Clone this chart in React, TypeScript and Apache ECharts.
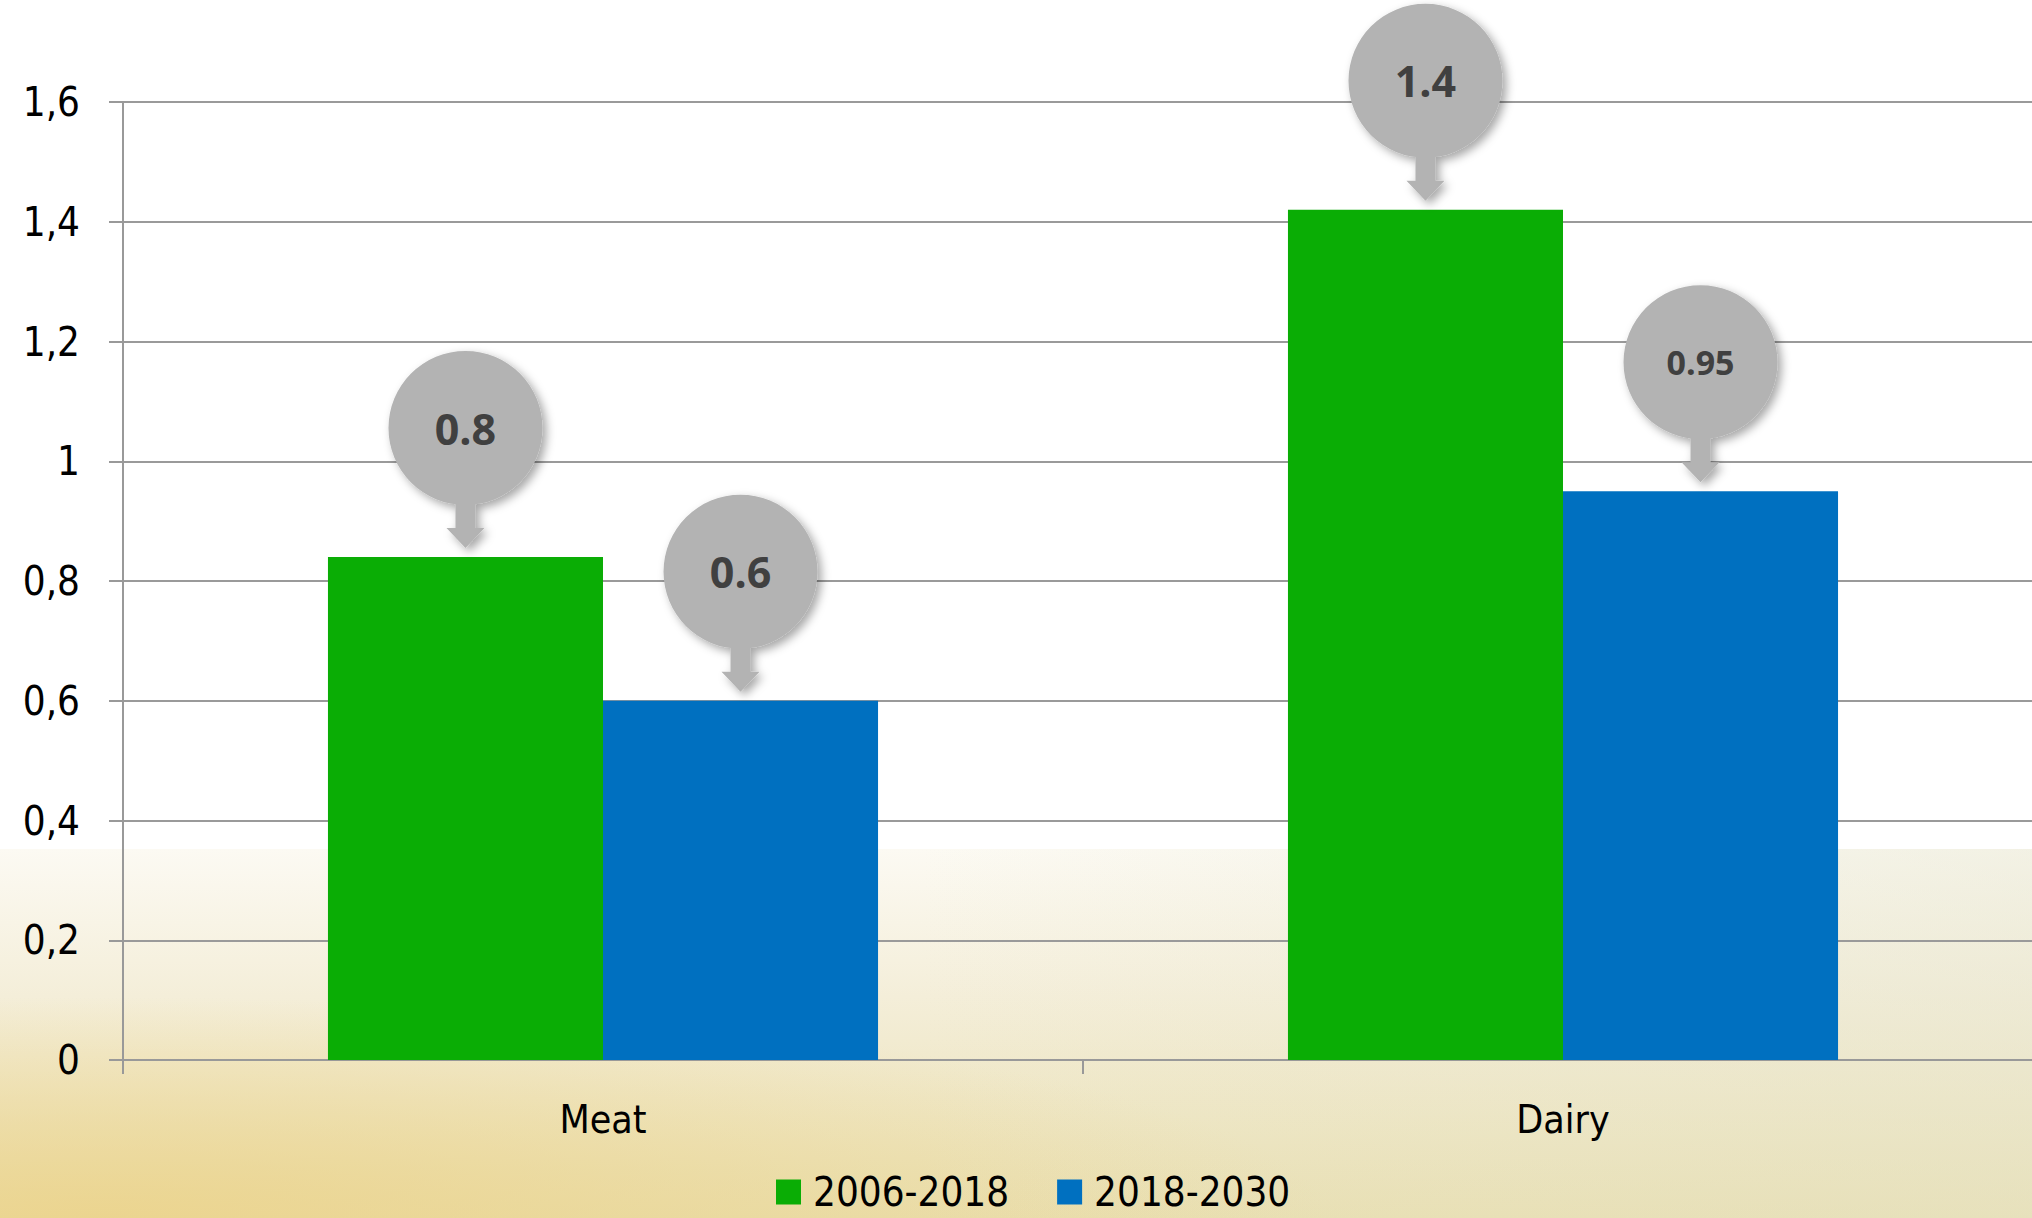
import React, { useEffect, useRef } from "react";
import * as echarts from "echarts";

const categories = ["Meat", "Dairy"];
const seriesNames = ["2006-2018", "2018-2030"];
const values2006_2018 = [0.84, 1.42];
const values2018_2030 = [0.6, 0.95];
const bubbleLabels2006_2018 = ["0.8", "1.4"];
const bubbleLabels2018_2030 = ["0.6", "0.95"];
const yTickLabels = ["0", "0,2", "0,4", "0,6", "0,8", "1", "1,2", "1,4", "1,6"];

const GREEN = "#0aad05";
const BLUE = "#0070c0";
const BAR_RATIO = 0.2865;
const AXIS_FONT = "'DejaVu Sans Condensed', 'DejaVu Sans', sans-serif";
const CHART_W = 2043;

export default function App() {
  const ref = useRef<HTMLDivElement>(null);

  useEffect(() => {
    document.body.style.margin = "0";
    const chart = echarts.init(ref.current!, undefined, { renderer: "svg" });

    const bubbleData: number[][] = [];
    const bubbleText: string[] = [];
    values2006_2018.forEach((v, i) => {
      bubbleData.push([i, v, 0]);
      bubbleText.push(bubbleLabels2006_2018[i]);
    });
    values2018_2030.forEach((v, i) => {
      bubbleData.push([i, v, 1]);
      bubbleText.push(bubbleLabels2018_2030[i]);
    });

    const renderBubble = (params: any, api: any) => {
      const cat = api.value(0);
      const val = api.value(1);
      const s = api.value(2);
      const pt = api.coord([cat, val]);
      const band = api.size([1, 0])[0];
      const bw = band * BAR_RATIO;
      const cx = pt[0] + (s === 0 ? -bw / 2 : bw / 2);
      const cy = pt[1] - 129;
      const r = 77;
      const label = bubbleText[params.dataIndex];
      const d =
        `M ${cx - r} ${cy} A ${r} ${r} 0 1 1 ${cx + r} ${cy} A ${r} ${r} 0 1 1 ${cx - r} ${cy} Z ` +
        `M ${cx - 10} ${cy + 60} L ${cx + 10} ${cy + 60} L ${cx + 10} ${cy + 100} L ${cx + 19} ${cy + 100} ` +
        `L ${cx} ${cy + 120} L ${cx - 19} ${cy + 100} L ${cx - 10} ${cy + 100} Z`;
      return {
        type: "group",
        children: [
          {
            type: "path",
            shape: { pathData: d },
            style: {
              fill: "#b3b3b3",
              shadowBlur: 10,
              shadowOffsetX: 4,
              shadowOffsetY: 4,
              shadowColor: "rgba(0,0,0,0.35)",
            },
          },
          {
            type: "text",
            x: cx,
            y: cy,
            style: {
              text: label,
              fill: "#404040",
              font: `bold ${label.length > 3 ? 34 : 43}px 'Open Sans', sans-serif`,
              align: "center",
              verticalAlign: "middle",
            },
          },
        ],
      };
    };

    const bgRect = { x: 0, y: 849, width: CHART_W, height: 369 };

    chart.setOption({
      animation: false,
      backgroundColor: "#ffffff",
      graphic: [
        {
          type: "rect",
          z: -100,
          silent: true,
          shape: bgRect,
          style: {
            fill: new echarts.graphic.LinearGradient(0, 0, 0, 1, [
              { offset: 0, color: "#fcfaf3" },
              { offset: 0.4, color: "#f4eed9" },
              { offset: 1, color: "#e9dfb0" },
            ]),
          },
        },
        {
          type: "rect",
          z: -99,
          silent: true,
          shape: bgRect,
          style: {
            fill: new echarts.graphic.RadialGradient(0.05, 1, 0.6, [
              { offset: 0, color: "rgba(236,210,135,0.8)" },
              { offset: 1, color: "rgba(236,210,135,0)" },
            ]),
          },
        },
        {
          type: "rect",
          z: -98,
          silent: true,
          shape: bgRect,
          style: {
            fill: new echarts.graphic.LinearGradient(0, 0, 1, 0, [
              { offset: 0.45, color: "rgba(228,228,206,0)" },
              { offset: 1, color: "rgba(228,228,206,0.4)" },
            ]),
          },
        },
      ],
      legend: {
        data: seriesNames,
        left: 776,
        top: 1172,
        padding: 0,
        itemWidth: 25,
        itemHeight: 25,
        itemGap: 48,
        icon: "rect",
        textStyle: {
          fontFamily: AXIS_FONT,
          fontSize: 40,
          color: "#000",
          padding: [0, 0, 0, 7],
        },
      },
      grid: { left: 123, right: 0, top: 102, bottom: 158, containLabel: false },
      xAxis: {
        type: "category",
        data: categories,
        axisLine: { show: true, lineStyle: { color: "#999", width: 2 } },
        axisTick: { show: true, length: 14, alignWithLabel: false, lineStyle: { color: "#999", width: 2 } },
        axisLabel: { fontFamily: AXIS_FONT, fontSize: 39, color: "#000", margin: 40 },
        splitLine: { show: false },
      },
      yAxis: {
        type: "value",
        min: 0,
        max: 1.6,
        interval: 0.2,
        axisLine: { show: true, lineStyle: { color: "#999", width: 2 } },
        axisTick: { show: true, length: 14, lineStyle: { color: "#999", width: 2 } },
        axisLabel: {
          fontFamily: AXIS_FONT,
          fontSize: 40,
          color: "#000",
          margin: 43,
          formatter: (_v: number, i: number) => yTickLabels[i],
        },
        splitLine: { show: true, lineStyle: { color: "#9a9a9a", width: 2 } },
      },
      series: [
        {
          name: seriesNames[0],
          type: "bar",
          data: values2006_2018,
          barWidth: `${BAR_RATIO * 100}%`,
          barGap: "0%",
          itemStyle: { color: GREEN },
          z: 3,
        },
        {
          name: seriesNames[1],
          type: "bar",
          data: values2018_2030,
          barWidth: `${BAR_RATIO * 100}%`,
          barGap: "0%",
          itemStyle: { color: BLUE },
          z: 3,
        },
        {
          type: "custom",
          name: "bubbles",
          data: bubbleData,
          encode: { x: 0, y: 1 },
          renderItem: renderBubble,
          clip: false,
          silent: true,
          z: 10,
        },
      ],
    });

    return () => chart.dispose();
  }, []);

  return (
    <div
      style={{
        position: "absolute",
        left: 0,
        top: 0,
        width: 2032,
        height: 1218,
        overflow: "hidden",
      }}
    >
      <div ref={ref} style={{ width: CHART_W, height: 1218 }} />
    </div>
  );
}
